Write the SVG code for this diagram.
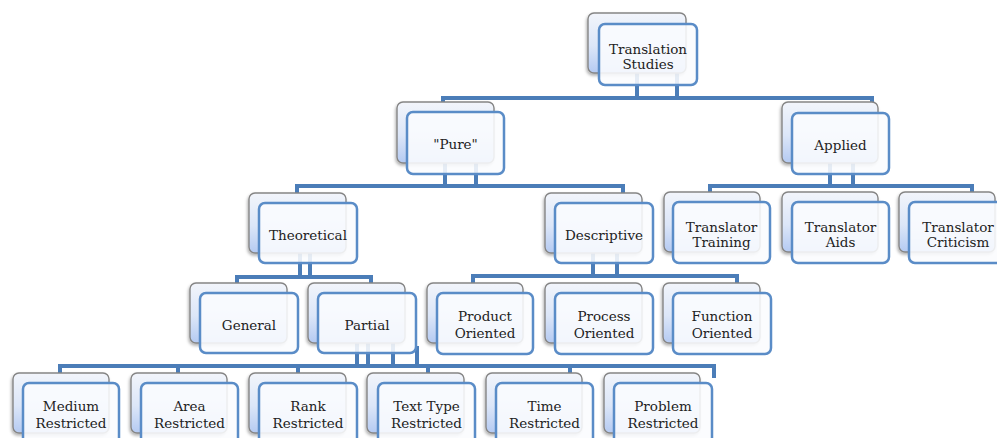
<svg xmlns="http://www.w3.org/2000/svg" width="997" height="438" viewBox="0 0 997 438">
<defs>
<linearGradient id="bg" x1="0" y1="0" x2="0" y2="1">
<stop offset="0" stop-color="#f2f5fb"/>
<stop offset="0.55" stop-color="#dce6f8"/>
<stop offset="1" stop-color="#b4caf2"/>
</linearGradient>
<filter id="sh" x="-20%" y="-20%" width="140%" height="150%">
<feDropShadow dx="-1" dy="2" stdDeviation="1.8" flood-color="#000" flood-opacity="0.3"/>
</filter>
</defs>
<style>
.back{fill:url(#bg);stroke:#858585;stroke-width:1.4;filter:url(#sh)}
.front{fill:#fbfcfe;fill-opacity:0.88;stroke:#5a8cc7;stroke-width:2.5}
.c{fill:none;stroke:#4b7db8;stroke-width:4}
text{font-family:"DejaVu Serif","Liberation Serif",serif;font-size:13.5px;fill:#222;text-anchor:middle}
</style>
<rect width="997" height="438" fill="#fff"/>
<g id="connectors">
<path class="c" d="M637,72 V98 M677,72 V98"/>
<path class="c" d="M443,106 V98 H872 V106"/>
<path class="c" d="M445,160 V186 M476,160 V186"/>
<path class="c" d="M297,194 V186 H623 V194"/>
<path class="c" d="M830,160 V186 M853,160 V186"/>
<path class="c" d="M710,194 V186 H972 V194"/>
<path class="c" d="M300,250 V277 M310,250 V277"/>
<path class="c" d="M237,284 V277 H371 V284"/>
<path class="c" d="M593,250 V276 M617,250 V276"/>
<path class="c" d="M473,284 V276 H737 V284"/>
<path class="c" d="M357,340 V366 M368,340 V366 M393,340 V366 M417,346 V366"/>
<path class="c" d="M60,376 V366 H714 V378"/>
<path class="c" d="M178,366 V375 M298,366 V375 M428,366 V375 M570,366 V375"/>
</g>
<g id="n-translation-studies">
<rect class="back" x="588" y="13" width="98" height="60" rx="6"/>
<rect class="front" x="599" y="24" width="98" height="61" rx="6"/>
<text x="648" y="54">Translation</text>
<text x="648" y="69">Studies</text>
</g>
<g id="n-pure">
<rect class="back" x="397" y="102" width="97" height="61" rx="6"/>
<rect class="front" x="407" y="112" width="97" height="62" rx="6"/>
<text x="455.5" y="149">"Pure"</text>
</g>
<g id="n-applied">
<rect class="back" x="782" y="102" width="96" height="61" rx="6"/>
<rect class="front" x="792" y="113" width="97" height="61" rx="6"/>
<text x="840.5" y="150">Applied</text>
</g>
<g id="n-theoretical">
<rect class="back" x="249" y="193" width="97" height="60" rx="6"/>
<rect class="front" x="259" y="203" width="98" height="60" rx="6"/>
<text x="308" y="240">Theoretical</text>
</g>
<g id="n-descriptive">
<rect class="back" x="545" y="193" width="97" height="60" rx="6"/>
<rect class="front" x="555" y="203" width="98" height="60" rx="6"/>
<text x="604" y="240">Descriptive</text>
</g>
<g id="n-translator-training">
<rect class="back" x="664" y="192" width="96" height="60" rx="6"/>
<rect class="front" x="673" y="202" width="97" height="61" rx="6"/>
<text x="721.5" y="232">Translator</text>
<text x="721.5" y="247">Training</text>
</g>
<g id="n-translator-aids">
<rect class="back" x="782" y="192" width="96" height="60" rx="6"/>
<rect class="front" x="792" y="202" width="97" height="61" rx="6"/>
<text x="840.5" y="232">Translator</text>
<text x="840.5" y="247">Aids</text>
</g>
<g id="n-translator-criticism">
<rect class="back" x="899" y="192" width="96" height="60" rx="6"/>
<rect class="front" x="909" y="202" width="97" height="61" rx="6"/>
<text x="958" y="232">Translator</text>
<text x="958" y="247">Criticism</text>
</g>
<g id="n-general">
<rect class="back" x="190" y="283" width="97" height="60" rx="6"/>
<rect class="front" x="200" y="293" width="98" height="60" rx="6"/>
<text x="249" y="330">General</text>
</g>
<g id="n-partial">
<rect class="back" x="308" y="283" width="97" height="60" rx="6"/>
<rect class="front" x="318" y="293" width="98" height="60" rx="6"/>
<text x="367" y="330">Partial</text>
</g>
<g id="n-product">
<rect class="back" x="427" y="283" width="96" height="60" rx="6"/>
<rect class="front" x="437" y="293" width="96" height="61" rx="6"/>
<text x="485" y="320.5">Product</text>
<text x="485" y="337.5">Oriented</text>
</g>
<g id="n-process">
<rect class="back" x="545" y="283" width="97" height="60" rx="6"/>
<rect class="front" x="555" y="293" width="98" height="61" rx="6"/>
<text x="604" y="320.5">Process</text>
<text x="604" y="337.5">Oriented</text>
</g>
<g id="n-function">
<rect class="back" x="663" y="283" width="97" height="60" rx="6"/>
<rect class="front" x="673" y="293" width="98" height="61" rx="6"/>
<text x="722" y="320.5">Function</text>
<text x="722" y="337.5">Oriented</text>
</g>
<g id="n-medium">
<rect class="back" x="13" y="373" width="96" height="60" rx="6"/>
<rect class="front" x="23" y="383" width="96" height="61" rx="6"/>
<text x="71" y="410.5">Medium</text>
<text x="71" y="427.5">Restricted</text>
</g>
<g id="n-area">
<rect class="back" x="131" y="373" width="96" height="60" rx="6"/>
<rect class="front" x="141" y="383" width="97" height="61" rx="6"/>
<text x="189.5" y="410.5">Area</text>
<text x="189.5" y="427.5">Restricted</text>
</g>
<g id="n-rank">
<rect class="back" x="249" y="373" width="97" height="60" rx="6"/>
<rect class="front" x="259" y="383" width="98" height="61" rx="6"/>
<text x="308" y="410.5">Rank</text>
<text x="308" y="427.5">Restricted</text>
</g>
<g id="n-text-type">
<rect class="back" x="367" y="373" width="97" height="60" rx="6"/>
<rect class="front" x="378" y="383" width="97" height="61" rx="6"/>
<text x="426.5" y="410.5">Text Type</text>
<text x="426.5" y="427.5">Restricted</text>
</g>
<g id="n-time">
<rect class="back" x="486" y="373" width="96" height="60" rx="6"/>
<rect class="front" x="496" y="383" width="97" height="61" rx="6"/>
<text x="544.5" y="410.5">Time</text>
<text x="544.5" y="427.5">Restricted</text>
</g>
<g id="n-problem">
<rect class="back" x="604" y="373" width="96" height="60" rx="6"/>
<rect class="front" x="614" y="383" width="98" height="61" rx="6"/>
<text x="663" y="410.5">Problem</text>
<text x="663" y="427.5">Restricted</text>
</g>
</svg>
